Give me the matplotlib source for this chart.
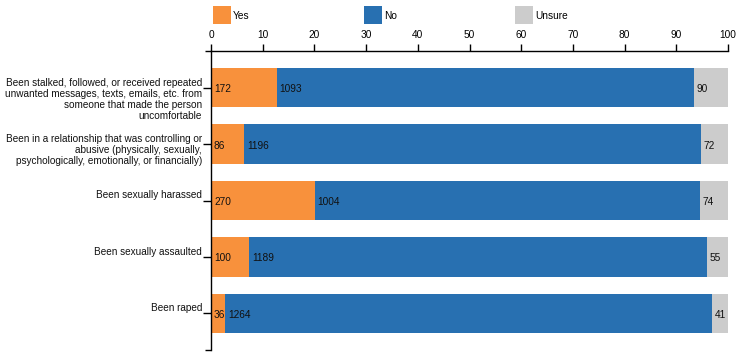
import matplotlib
matplotlib.use("Agg")
import matplotlib.pyplot as plt
from matplotlib.transforms import offset_copy, blended_transform_factory
from matplotlib.patches import Rectangle
import numpy as np

plt.rcParams["font.family"] = ["Liberation Sans", "DejaVu Sans"]

questions = [
    "Been stalked, followed, or received repeated\nunwanted messages, texts, emails, etc. from\nsomeone that made the person\nuncomfortable",
    "Been in a relationship that was controlling or\nabusive (physically, sexually,\npsychologically, emotionally, or financially)",
    "Been sexually harassed",
    "Been sexually assaulted",
    "Been raped",
]
answers = ["Yes", "No", "Unsure"]
yes_counts = [172, 86, 270, 100, 36]
no_counts = [1093, 1196, 1004, 1189, 1264]
unsure_counts = [90, 72, 74, 55, 41]
colors = ["#f8913c", "#2870b1", "#cccccc"]
x_ticks = [0, 10, 20, 30, 40, 50, 60, 70, 80, 90, 100]

W, H = 740, 356
fig = plt.figure(figsize=(W / 100, H / 100), dpi=100)
left, right, top, bottom = 211, 728, 51, 350
ax = fig.add_axes([left / W, 1 - bottom / H, (right - left) / W, (bottom - top) / H])

counts = np.array([yes_counts, no_counts, unsure_counts], dtype=float)
pct = counts / counts.sum(axis=0) * 100
ypos = np.arange(len(questions))
fs = 7.3

starts = np.zeros(len(questions))
for i, ans in enumerate(answers):
    ax.barh(ypos, pct[i], left=starts, height=0.7, color=colors[i], lw=0)
    tr = offset_copy(ax.transData, fig=fig, x=3, y=-1.5, units="dots")
    for j in range(len(questions)):
        ax.text(starts[j], ypos[j], f"{int(counts[i][j])}", transform=tr,
                ha="left", va="center", fontsize=fs, color="#111111")
    starts += pct[i]

ax.set_xlim(0, 100)
ax.set_ylim(4.65, -0.65)

# top axis like d3
ax.xaxis.tick_top()
ax.set_xticks(x_ticks)
ax.set_xticklabels([str(t) for t in x_ticks])
ax.tick_params(axis="x", direction="out", length=5, width=1, pad=3,
               labelsize=fs, color="black")
ax.set_yticks(ypos)
ax.set_yticklabels([])
ax.tick_params(axis="y", direction="out", length=6, width=1)

# wrapped y labels: first line a bit above the tick, rest flow down
blend = blended_transform_factory(ax.transAxes, ax.transData)
for j, q in enumerate(questions):
    for k, line in enumerate(q.split("\n")):
        tr = offset_copy(blend, fig=fig, x=-9, y=5 - 11.2 * k, units="dots")
        ax.text(0, ypos[j], line, transform=tr, ha="right", va="center",
                fontsize=7.2, color="#111111")

for s in ["right", "bottom"]:
    ax.spines[s].set_visible(False)
ax.spines["top"].set_linewidth(1)
ax.spines["left"].set_linewidth(1)
ax.spines["top"].set_bounds(0, 100)

# outer ticks of the y domain path
dx = 6 / (right - left)
for yy in (0, 1):
    ax.plot([-dx, 0], [yy, yy], transform=ax.transAxes, color="black",
            lw=1, clip_on=False, solid_capstyle="butt")

# legend
leg_x = [213, 364, 515]
for i, ans in enumerate(answers):
    fig.patches.append(Rectangle((leg_x[i] / W, 1 - 24 / H), 18 / W, 18 / H,
                                 transform=fig.transFigure, color=colors[i], lw=0))
    fig.text((leg_x[i] + 20) / W, 1 - 16 / H, ans, fontsize=fs,
             ha="left", va="center")

fig.savefig("out.png", dpi=100)
